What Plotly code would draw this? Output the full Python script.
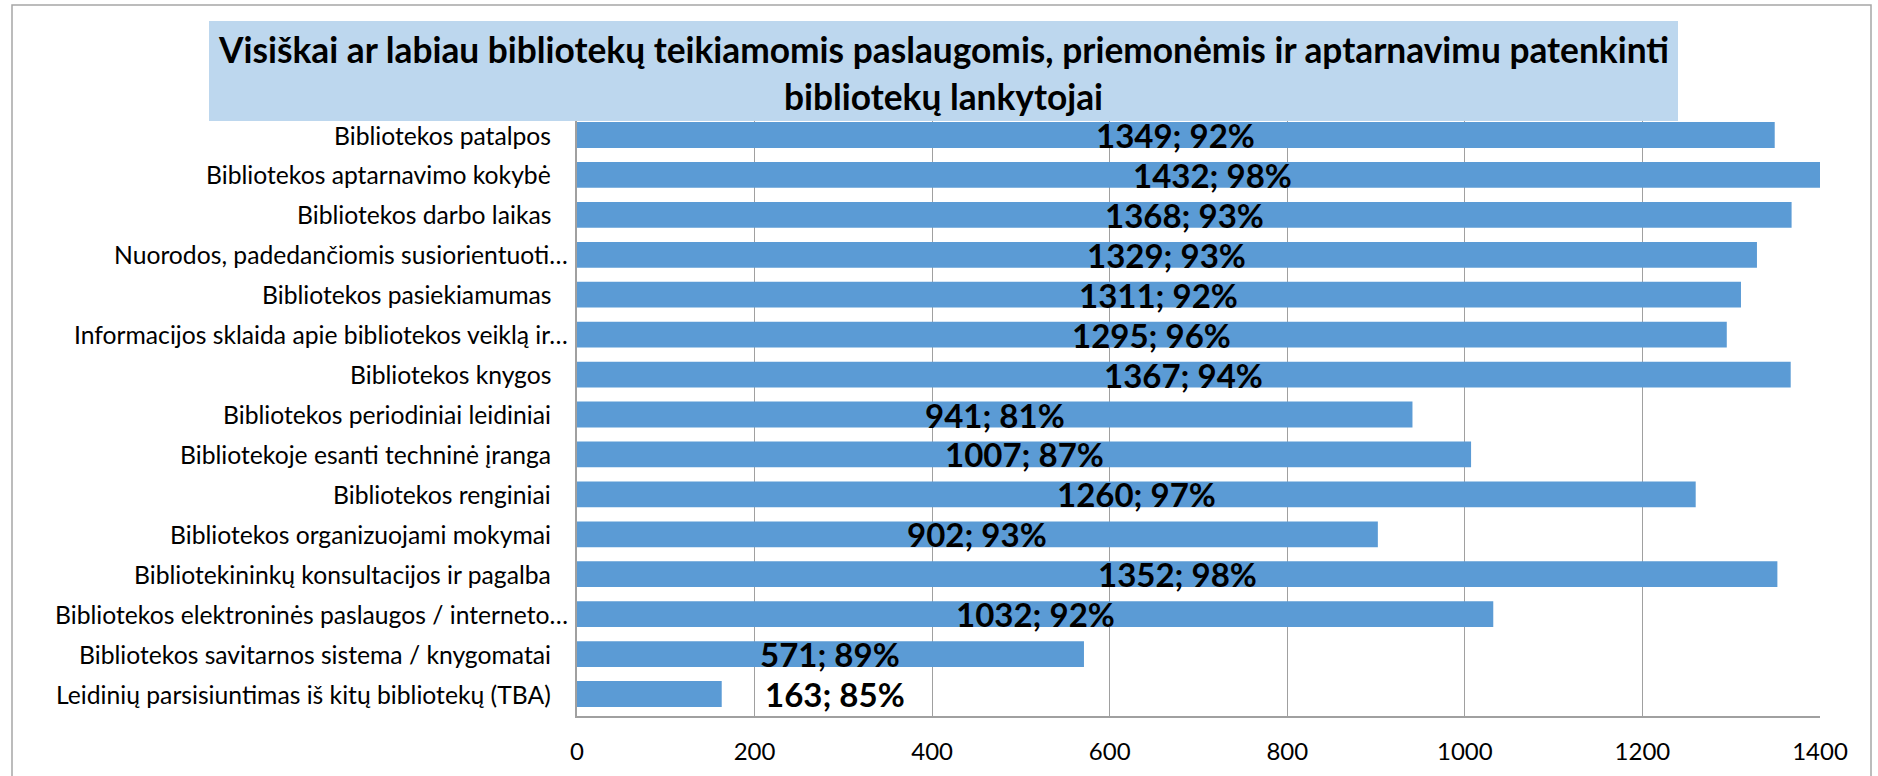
import plotly.graph_objects as go

categories = [
    "Bibliotekos patalpos",
    "Bibliotekos aptarnavimo kokybė",
    "Bibliotekos darbo laikas",
    "Nuorodos, padedančiomis susiorientuoti…",
    "Bibliotekos pasiekiamumas",
    "Informacijos sklaida apie bibliotekos veiklą ir…",
    "Bibliotekos knygos",
    "Bibliotekos periodiniai leidiniai",
    "Bibliotekoje esanti techninė įranga",
    "Bibliotekos renginiai",
    "Bibliotekos organizuojami mokymai",
    "Bibliotekininkų konsultacijos ir pagalba",
    "Bibliotekos elektroninės paslaugos / interneto…",
    "Bibliotekos savitarnos sistema / knygomatai",
    "Leidinių parsisiuntimas iš kitų bibliotekų (TBA)",
]
counts = [1349, 1432, 1368, 1329, 1311, 1295, 1367, 941, 1007, 1260, 902, 1352, 1032, 571, 163]
percents = [92, 98, 93, 93, 92, 96, 94, 81, 87, 97, 93, 98, 92, 89, 85]
x_ticks = [0, 200, 400, 600, 800, 1000, 1200, 1400]
title_lines = [
    "Visiškai ar labiau bibliotekų teikiamomis paslaugomis, priemonėmis ir aptarnavimu patenkinti",
    "bibliotekų lankytojai",
]

W, H = 1878, 776
L, R, T, B = 577, 58, 113, 60
PW, PH = W - L - R, H - T - B

def px_x(px):
    return (px - L) / PW

def px_y(py):
    return (H - B - py) / PH

FONT = "Lato"

fig = go.Figure()
fig.add_trace(go.Bar(
    x=counts, y=categories, orientation="h",
    marker=dict(color="#5B9BD5", line=dict(width=0)),
    hoverinfo="x+y",
))

annotations = []
# category labels (right-aligned left of the axis; truncated ones sit a bit further right)
for c in categories:
    gap = 7 if c.endswith("…") else 24
    annotations.append(dict(x=0, y=c, xref="paper", yref="y", text=c, showarrow=False,
                            xanchor="right", yanchor="middle", xshift=-gap,
                            font=dict(family=FONT, size=24.7, color="black")))

for c, v, p in zip(categories, counts, percents):
    txt = f"{v}; {p}%"
    lab_font = dict(family=FONT, size=33, color="black", weight="bold")
    if v < 300:
        annotations.append(dict(x=v, y=c, xref="x", yref="y", text=txt, showarrow=False,
                                xanchor="left", xshift=41, yshift=0, font=lab_font))
    else:
        annotations.append(dict(x=v / 2, y=c, xref="x", yref="y", text=txt, showarrow=False,
                                xanchor="center", yshift=0, font=lab_font))

title_y = [49, 97]
for line, ty in zip(title_lines, title_y):
    annotations.append(dict(
        x=px_x((209 + 1678) / 2), y=px_y(ty), xref="paper", yref="paper",
        text=line, showarrow=False, xanchor="center", yanchor="middle",
        font=dict(family=FONT, size=35.3, color="black", weight="bold"),
    ))

shapes = [
    dict(type="rect", xref="paper", yref="paper",
         x0=px_x(12), x1=px_x(1871), y0=px_y(790), y1=px_y(5),
         line=dict(color="#A6A6A6", width=1.5), fillcolor="rgba(0,0,0,0)", layer="below"),
    dict(type="rect", xref="paper", yref="paper",
         x0=px_x(209), x1=px_x(1678), y0=px_y(121), y1=px_y(21),
         line=dict(width=0), fillcolor="#BDD7EE", layer="above"),
]

fig.update_layout(
    width=W, height=H,
    margin=dict(l=L, r=R, t=T, b=B, autoexpand=False),
    paper_bgcolor="white", plot_bgcolor="white",
    bargap=0.355,
    showlegend=False,
    annotations=annotations,
    shapes=shapes,
    font=dict(family=FONT, color="black"),
)
fig.update_xaxes(
    range=[0, 1400], tickvals=x_ticks, ticktext=[str(t) for t in x_ticks],
    showgrid=True, gridcolor="#A0A0A0", gridwidth=1,
    showline=True, linecolor="#A0A0A0", linewidth=1.5,
    zeroline=False, ticks="", ticklabelstandoff=13,
    tickfont=dict(family=FONT, size=24, color="black"),
)
fig.update_yaxes(
    categoryorder="array", categoryarray=categories, autorange="reversed",
    showgrid=False, showline=True, linecolor="#A0A0A0", linewidth=1.5,
    ticks="", showticklabels=False,
)

fig.write_html(
    "out.html",
    config={"displayModeBar": False},
    post_script="document.body.style.margin='0px';document.body.style.overflow='hidden';",
)
